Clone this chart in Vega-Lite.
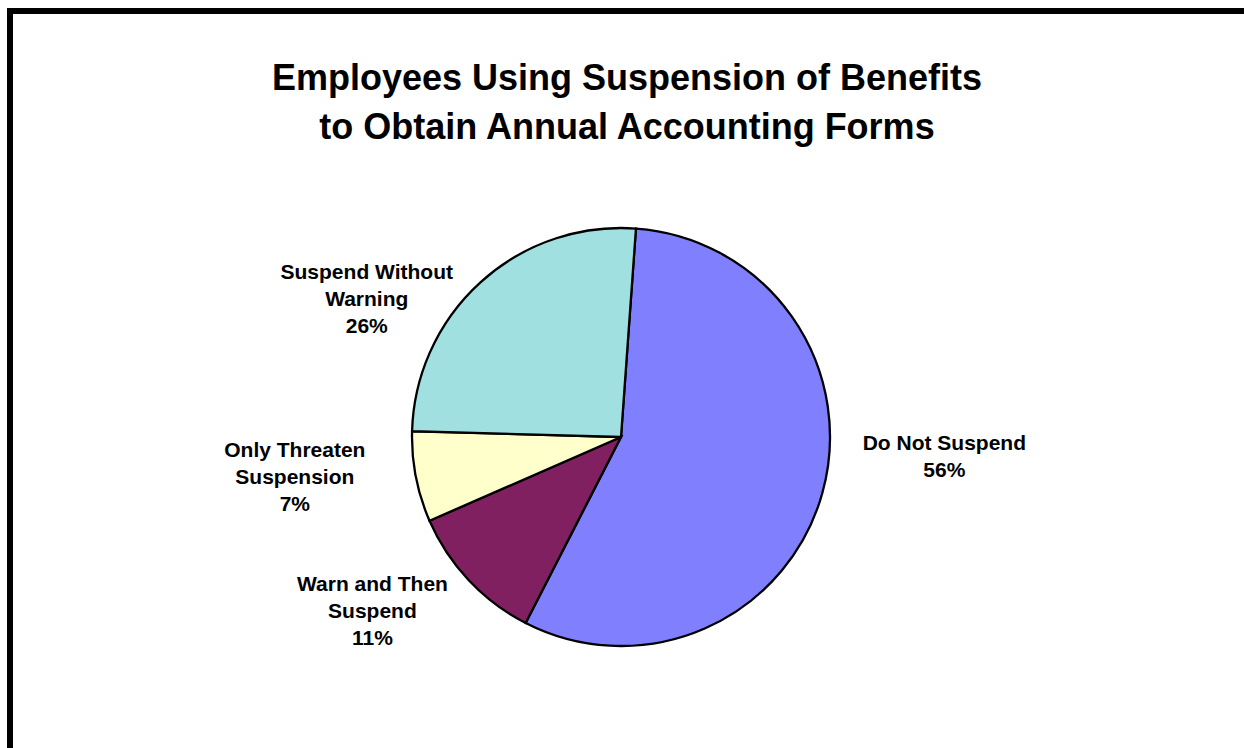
{
  "$schema": "https://vega.github.io/schema/vega-lite/v6.json",
  "width": 1244,
  "height": 747,
  "autosize": {"type": "none"},
  "padding": {"left": 10, "top": 11, "right": -10, "bottom": -10},
  "background": "white",
  "config": {"view": {"stroke": null}},
  "title": {
    "text": ["Employees Using Suspension of Benefits", "to Obtain Annual Accounting Forms"],
    "font": "Liberation Sans",
    "fontSize": 36,
    "fontWeight": "bold",
    "color": "black",
    "lineHeight": 49,
    "anchor": "middle",
    "baseline": "alphabetic",
    "offset": -167,
    "dx": -5
  },
  "datasets": {
    "slices": [
      {"category": "Do Not Suspend", "value": 56.4, "order": 1, "label": "Do Not Suspend\n56%"},
      {"category": "Warn and Then Suspend", "value": 10.9, "order": 2, "label": "Warn and Then\nSuspend\n11%"},
      {"category": "Only Threaten Suspension", "value": 7.0, "order": 3, "label": "Only Threaten\nSuspension\n7%"},
      {"category": "Suspend Without Warning", "value": 25.7, "order": 4, "label": "Suspend Without\nWarning\n26%"}
    ],
    "frame": [{"name": "chart area"}]
  },
  "layer": [
    {
      "data": {"name": "frame"},
      "mark": {"type": "rect", "fill": null, "stroke": "black", "strokeWidth": 6},
      "encoding": {}
    },
    {
      "data": {"name": "slices"},
      "layer": [
        {
          "mark": {"type": "arc", "outerRadius": 209, "stroke": "black", "strokeWidth": 2.3, "xOffset": -11, "yOffset": 52.5},
          "encoding": {
            "theta": {"field": "value", "type": "quantitative", "stack": true, "scale": {"range": [0.0716, 6.3548]}},
            "order": {"field": "order", "type": "quantitative"},
            "color": {
              "field": "category",
              "type": "nominal",
              "scale": {
                "domain": ["Do Not Suspend", "Warn and Then Suspend", "Only Threaten Suspension", "Suspend Without Warning"],
                "range": ["#8080FF", "#802060", "#FFFFCC", "#A0E0E0"]
              },
              "legend": null
            }
          }
        },
        {
          "mark": {"type": "text", "radius": 300, "dx": 23.4, "dy": -21.6, "font": "Liberation Sans", "fontSize": 21, "fontWeight": "bold", "lineBreak": "\n", "lineHeight": 27, "align": "center", "baseline": "middle", "color": "black"},
          "encoding": {
            "theta": {"field": "value", "type": "quantitative", "stack": true},
            "order": {"field": "order", "type": "quantitative"},
            "detail": {"field": "category", "type": "nominal"},
            "text": {"condition": {"test": "datum.category === 'Do Not Suspend'", "field": "label"}, "value": ""}
          }
        },
        {
          "mark": {"type": "text", "radius": 300, "dx": -41, "dy": -5.1, "font": "Liberation Sans", "fontSize": 21, "fontWeight": "bold", "lineBreak": "\n", "lineHeight": 27, "align": "center", "baseline": "middle", "color": "black"},
          "encoding": {
            "theta": {"field": "value", "type": "quantitative", "stack": true},
            "order": {"field": "order", "type": "quantitative"},
            "detail": {"field": "category", "type": "nominal"},
            "text": {"condition": {"test": "datum.category === 'Warn and Then Suspend'", "field": "label"}, "value": ""}
          }
        },
        {
          "mark": {"type": "text", "radius": 300, "dx": -42.7, "dy": 9.6, "font": "Liberation Sans", "fontSize": 21, "fontWeight": "bold", "lineBreak": "\n", "lineHeight": 27, "align": "center", "baseline": "middle", "color": "black"},
          "encoding": {
            "theta": {"field": "value", "type": "quantitative", "stack": true},
            "order": {"field": "order", "type": "quantitative"},
            "detail": {"field": "category", "type": "nominal"},
            "text": {"condition": {"test": "datum.category === 'Only Threaten Suspension'", "field": "label"}, "value": ""}
          }
        },
        {
          "mark": {"type": "text", "radius": 300, "dx": -63.9, "dy": 110.4, "font": "Liberation Sans", "fontSize": 21, "fontWeight": "bold", "lineBreak": "\n", "lineHeight": 27, "align": "center", "baseline": "middle", "color": "black"},
          "encoding": {
            "theta": {"field": "value", "type": "quantitative", "stack": true},
            "order": {"field": "order", "type": "quantitative"},
            "detail": {"field": "category", "type": "nominal"},
            "text": {"condition": {"test": "datum.category === 'Suspend Without Warning'", "field": "label"}, "value": ""}
          }
        }
      ]
    }
  ]
}
